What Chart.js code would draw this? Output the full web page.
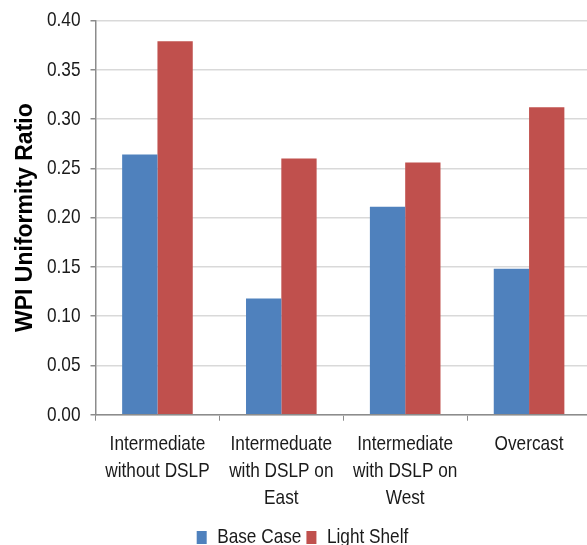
<!DOCTYPE html>
<html>
<head>
<meta charset="utf-8">
<script src="https://cdn.jsdelivr.net/npm/chart.js@4/dist/chart.umd.min.js"></script>
<style>
  html, body { margin: 0; padding: 0; background: #ffffff; overflow: hidden; }
  #wrap { width: 591px; height: 558px; }
</style>
</head>
<body>
<div id="wrap"><canvas id="chart" width="591" height="558"></canvas></div>
<script>
// Sky-condition scenarios (multi-line labels)
const categories = [
  ['Intermediate', 'without DSLP'],
  ['Intermeduate', 'with DSLP on', 'East'],
  ['Intermediate', 'with DSLP on', 'West'],
  ['Overcast']
];
const baseCase   = [0.264, 0.118, 0.211, 0.148];
const lightShelf = [0.379, 0.260, 0.256, 0.312];
const yTicks = [0, 0.05, 0.10, 0.15, 0.20, 0.25, 0.30, 0.35, 0.40];

const sans = "'Liberation Sans', Arial, sans-serif";

// Narrow-set labels: regular-weight text is drawn (and measured) at 82% width.
const canvas = document.getElementById('chart');
const ctx = canvas.getContext('2d');
const SX = 0.82;
const rawFill = ctx.fillText.bind(ctx);
const rawMeasure = ctx.measureText.bind(ctx);
ctx.fillText = function (t, x, y, maxW) {
  if (/bold/.test(this.font)) return rawFill(t, x, y);
  this.save();
  this.translate(x, y);
  this.scale(SX, 1);
  rawFill(t, 0, 0);
  this.restore();
};
ctx.measureText = function (t) {
  const m = rawMeasure(t);
  if (/bold/.test(this.font)) return m;
  return {
    width: m.width * SX,
    actualBoundingBoxAscent: m.actualBoundingBoxAscent,
    actualBoundingBoxDescent: m.actualBoundingBoxDescent,
    actualBoundingBoxLeft: m.actualBoundingBoxLeft * SX,
    actualBoundingBoxRight: m.actualBoundingBoxRight * SX
  };
};

new Chart(ctx, {
  type: 'bar',
  data: {
    labels: categories,
    datasets: [
      { label: 'Base Case', data: baseCase, backgroundColor: '#4F81BD',
        barPercentage: 1.0, categoryPercentage: 0.57 },
      { label: 'Light Shelf', data: lightShelf, backgroundColor: '#C0504D',
        barPercentage: 1.0, categoryPercentage: 0.57 }
    ]
  },
  options: {
    responsive: false,
    animation: false,
    layout: { padding: { left: 14, top: 4, right: 0, bottom: 0 } },
    plugins: {
      tooltip: { enabled: false },
      legend: {
        position: 'bottom',
        labels: {
          font: { family: sans, size: 21 },
          color: '#1a1a1a',
          boxWidth: 10,
          boxHeight: 13,
          padding: 5
        }
      }
    },
    scales: {
      x: {
        offset: true,
        grid: { display: true, drawOnChartArea: false, offset: true,
                tickLength: 6, color: '#8c8c8c', tickColor: '#8c8c8c' },
        border: { color: '#8c8c8c', width: 1.5 },
        ticks: {
          font: { family: sans, size: 21, lineHeight: 1.29 },
          color: '#1a1a1a',
          maxRotation: 0, autoSkip: false, padding: 10
        }
      },
      y: {
        min: 0, max: 0.40,
        afterBuildTicks: (axis) => { axis.ticks = yTicks.map(v => ({ value: v })); },
        grid: { color: '#d9d9d9', tickColor: '#8c8c8c', tickLength: 5, lineWidth: 1.5 },
        border: { color: '#8c8c8c', width: 1.5 },
        ticks: {
          font: { family: sans, size: 21, lineHeight: 1.0 },
          color: '#1a1a1a',
          padding: 10,
          callback: (v) => Number(v).toFixed(2)
        },
        title: {
          display: true,
          text: 'WPI Uniformity Ratio',
          font: { family: sans, size: 23, weight: 'bold', lineHeight: 1.0 },
          color: '#000000',
          padding: { top: 0, bottom: 0 }
        }
      }
    }
  }
});
</script>
</body>
</html>
